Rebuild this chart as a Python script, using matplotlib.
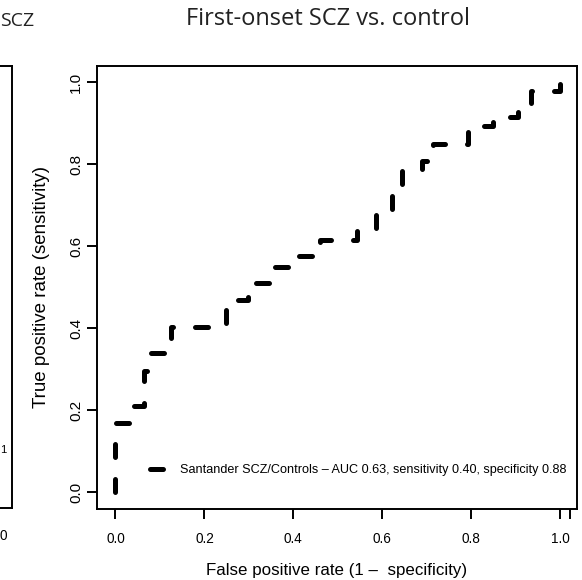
import matplotlib
matplotlib.use("Agg")
import matplotlib.pyplot as plt
from matplotlib.ticker import FixedLocator

# ROC staircase corners (1 - specificity, sensitivity)
fpr = [0.0, 0.0, 0.04, 0.063, 0.08, 0.124, 0.249, 0.297, 0.352, 0.396, 0.46,
       0.544, 0.587, 0.623, 0.645, 0.69, 0.715, 0.793, 0.848, 0.906, 0.935, 1.0]
tpr = [0.0, 0.168, 0.21, 0.295, 0.34, 0.403, 0.468, 0.51, 0.55, 0.575, 0.615,
       0.637, 0.68, 0.724, 0.788, 0.808, 0.85, 0.893, 0.915, 0.936, 0.978, 1.0]

ticks = [0.0, 0.2, 0.4, 0.6, 0.8, 1.0]
tick_labels = ["0.0", "0.2", "0.4", "0.6", "0.8", "1.0"]
legend_label = "Santander SCZ/Controls \u2013 AUC 0.63, sensitivity 0.40, specificity 0.88"

plt.rcParams['font.family'] = ['Liberation Sans', 'DejaVu Sans']
title_font = ['Open Sans', 'DejaVu Sans']

W, H = 582, 580
fig = plt.figure(figsize=(W / 100, H / 100), dpi=100)

# ── neighbouring panel, cut off at the left edge ───────────────────────────
ax0 = fig.add_axes([-0.8, 1 - 508 / H, 0.8 + 12 / W, (508 - 66) / H])
ax0.set_xticks([])
ax0.set_yticks([])
for s in ax0.spines.values():
    s.set_linewidth(1.4)
fig.text(0, 1 - 21 / H, "SCZ", ha='left', va='center',
         fontsize=14, family=title_font, color='#222222')
fig.text(0, 1 - 450 / H, "1", ha='left', va='center', fontsize=8)
fig.text(0, 1 - 536 / H, "0", ha='left', va='center', fontsize=9.8)

# ── main panel ──────────────────────────────────────────────────────────────
ax = fig.add_axes([97 / W, 1 - 509 / H, (577 - 97) / W, (509 - 66) / H])

ax.plot(fpr, tpr, drawstyle='steps-post', color='black', linewidth=3.6,
        linestyle=(0, (2.6, 4.4)), dash_capstyle='round',
        solid_capstyle='round', label=legend_label)

ax.set_xlim(-0.0416, 1.038)
ax.set_ylim(-0.041, 1.039)

ax.set_xticks(ticks)
ax.set_xticklabels(tick_labels, fontsize=9.8)
ax.set_yticks(ticks)
ax.set_yticklabels(tick_labels, rotation=90, va='center', fontsize=11)
ax.xaxis.set_minor_locator(FixedLocator([1.022]))
ax.tick_params(axis='both', which='major', length=7, width=1.4,
               direction='out')
ax.tick_params(axis='x', which='minor', length=7, width=1.4)
ax.tick_params(axis='x', pad=9.5)
ax.tick_params(axis='y', pad=3)
for s in ax.spines.values():
    s.set_linewidth(1.4)

ax.set_xlabel("False positive rate (1 \u2013  specificity)", fontsize=12.2)
ax.xaxis.set_label_coords(0.5, (509 - 570) / 443)
ax.xaxis.label.set_verticalalignment('center')
ax.set_ylabel("True positive rate (sensitivity)", fontsize=13.5)
ax.yaxis.set_label_coords((42 - 97) / 480, 0.5)
ax.yaxis.label.set_verticalalignment('center')

fig.text(328 / W, 1 - 19 / H, "First-onset SCZ vs. control", ha='center',
         va='center', fontsize=17, family=title_font, color='#222222')

ax.legend(loc='center left', bbox_to_anchor=(0.0765, 0.054),
          bbox_transform=ax.transData, frameon=False, fontsize=9.1,
          handlelength=1.1, handletextpad=1.3, borderpad=0, borderaxespad=0)

fig.savefig("out.png", dpi=100)
